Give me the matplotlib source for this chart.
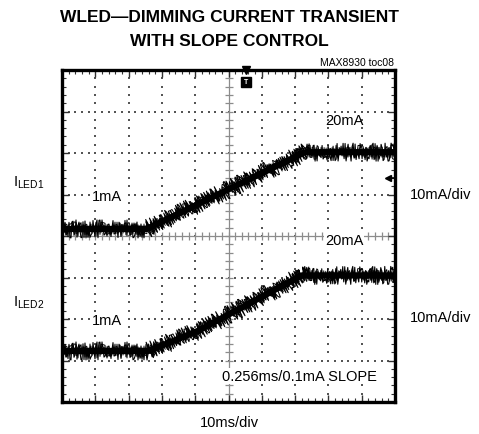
import matplotlib
matplotlib.use('Agg')
import matplotlib.pyplot as plt
import numpy as np

plt.rcParams['font.family'] = ['Liberation Sans Narrow', 'Liberation Sans', 'DejaVu Sans']
plt.rcParams['mathtext.fontset'] = 'custom'
plt.rcParams['mathtext.rm'] = 'Liberation Sans'

# ─── data (screen divisions: 10 x 8, 10ms/div, 10mA/div) ─────────────────────
t_led1 = [0.0, 2.55, 7.30, 10.0]
i_led1 = [4.17, 4.17, 6.02, 6.02]

t_led2 = [0.0, 2.60, 4.10, 7.20, 10.0]
i_led2 = [1.23, 1.23, 1.72, 3.05, 3.05]

trig_x = 5.53
ref1_y = 5.40

# ─── figure ───────────────────────────────────────────────────────────────────
fig = plt.figure(figsize=(4.79, 4.35), dpi=100)
ax = fig.add_axes([62 / 479, 1 - 403 / 435, 333 / 479, 332 / 435])
ax.set_xlim(0, 10)
ax.set_ylim(0, 8)

# dotted graticule
minor = np.arange(0, 10.01, 0.2)
minor_y = np.arange(0, 8.01, 0.2)
for gx in range(1, 10):
    if gx == 5:
        continue
    ax.scatter(np.full_like(minor_y, gx), minor_y, s=1.6, marker='s', color='#555555',
               linewidths=0, zorder=1)
for gy in range(1, 8):
    if gy == 4:
        continue
    ax.scatter(minor, np.full_like(minor, gy), s=1.6, marker='s', color='#555555',
               linewidths=0, zorder=1)

# centre cross with ticks
ax.axvline(5, color='#8c8c8c', lw=0.9, zorder=1)
ax.axhline(4, color='#8c8c8c', lw=0.9, zorder=1)
ax.plot(np.full_like(minor_y, 5), minor_y, ls='none', marker='_', ms=6, mew=0.9,
        color='#8c8c8c', zorder=1)
ax.plot(minor, np.full_like(minor, 4), ls='none', marker='|', ms=6, mew=0.9,
        color='#8c8c8c', zorder=1)

# traces (noisy look comes from sketch style)
for t, i in [(t_led1, i_led1), (t_led2, i_led2)]:
    ax.plot(t, i, color='black', lw=4.5, solid_capstyle='butt', zorder=3)
    for sc, ln_len, rnd, lw in [(9, 1.5, 3, 0.8), (7, 1.0, 2, 0.7), (5, 0.7, 4, 0.6)]:
        ln, = ax.plot(t, i, color='black', lw=lw, zorder=3)
        ln.set_sketch_params(scale=sc, length=ln_len, randomness=rnd)

# markers
ax.plot([trig_x], [8], marker='v', ms=6, color='black', clip_on=False, zorder=5)
ax.plot([trig_x], [7.72], marker='s', ms=7, color='black', zorder=5)
ax.text(trig_x, 7.72, 'T', color='white', fontsize=5, fontweight='bold',
        ha='center', va='center', zorder=6)
ax.plot([9.79], [ref1_y], marker='<', ms=5, color='black', zorder=5)
ax.plot([9.79, 10], [ref1_y, ref1_y], color='black', lw=1.2, zorder=5)

# frame and edge ticks
for s in ax.spines.values():
    s.set_linewidth(2.4)
ax.set_xticks(np.arange(0, 11, 1))
ax.set_yticks(np.arange(0, 9, 1))
ax.set_xticks(minor, minor=True)
ax.set_yticks(minor_y, minor=True)
ax.tick_params(which='both', direction='in', top=True, right=True,
               labelbottom=False, labelleft=False, color='#333333')
ax.tick_params(which='major', length=5, width=1)
ax.tick_params(which='minor', length=3, width=0.8)

# in-plot labels
fs = 10.5
lab = dict(fontsize=fs, ha='center', va='center')
ax.text(1.35, (403 - 197) / 41.5, '1mA', bbox=dict(fc='white', ec='none', pad=1), **lab)
ax.text(1.35, (403 - 321) / 41.5, '1mA', bbox=dict(fc='white', ec='none', pad=1), **lab)
ax.text(8.47, (403 - 121) / 41.5, '20mA', **lab)
ax.text(8.47, (403 - 241) / 41.5, '20mA', bbox=dict(fc='white', ec='none', pad=0.5), **lab)
ax.text(7.12, (403 - 377) / 41.5, '0.256ms/0.1mA SLOPE',
        bbox=dict(fc='white', ec='none', pad=1), **lab)

# outside labels
fig.text(229 / 479, 1 - 423 / 435, '10ms/div', **lab)
fig.text(410 / 479, 1 - 195 / 435, '10mA/div', fontsize=fs, ha='left', va='center')
fig.text(410 / 479, 1 - 318 / 435, '10mA/div', fontsize=fs, ha='left', va='center')
fig.text(13 / 479, 1 - 183 / 435, r'$\mathregular{I_{LED1}}$', fontsize=fs,
         ha='left', va='center')
fig.text(13 / 479, 1 - 303 / 435, r'$\mathregular{I_{LED2}}$', fontsize=fs,
         ha='left', va='center')
fig.text(394 / 479, 1 - 63 / 435, 'MAX8930 toc08', fontsize=7.5, ha='right', va='center')

fig.text(229 / 479, 1 - 17 / 435, 'WLED\u2014DIMMING CURRENT TRANSIENT', fontsize=12.5,
         fontweight='bold', ha='center', va='center')
fig.text(229 / 479, 1 - 42 / 435, 'WITH SLOPE CONTROL', fontsize=12.5,
         fontweight='bold', ha='center', va='center')

fig.savefig('out.png', dpi=100)
